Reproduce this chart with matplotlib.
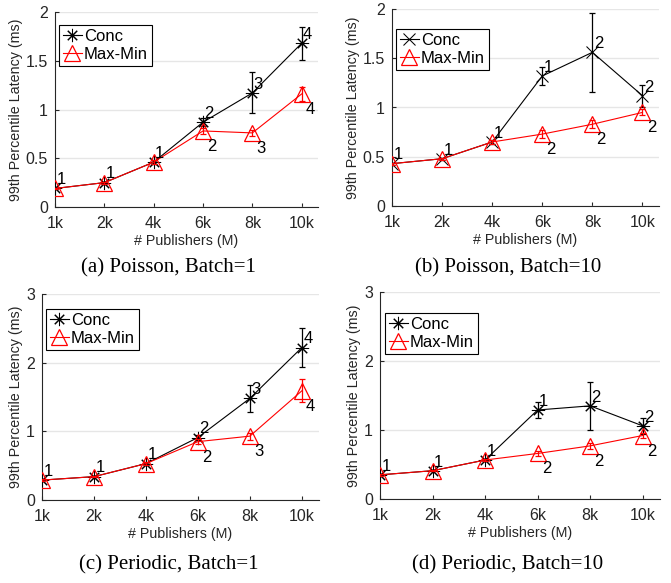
import matplotlib
matplotlib.use("Agg")
import matplotlib.pyplot as plt
import numpy as np

# ---------------- data ----------------
publishers = ["1k", "2k", "4k", "6k", "8k", "10k"]

conc_a = [0.19, 0.25, 0.46, 0.87, 1.17, 1.68]
conc_a_err = [0.01, 0.01, 0.02, 0.04, 0.21, 0.17]
mm_a = [0.19, 0.25, 0.46, 0.78, 0.76, 1.16]
mm_a_err = [0.01, 0.01, 0.02, 0.03, 0.03, 0.07]
conc_a_lab = ["1", "1", "1", "2", "3", "4"]
mm_a_lab = ["", "", "", "2", "3", "4"]

conc_b = [0.43, 0.48, 0.65, 1.32, 1.56, 1.12]
conc_b_err = [0.01, 0.01, 0.02, 0.09, 0.40, 0.11]
mm_b = [0.43, 0.48, 0.65, 0.73, 0.83, 0.95]
mm_b_err = [0.01, 0.01, 0.02, 0.04, 0.04, 0.03]
conc_b_lab = ["1", "1", "1", "1", "2", "2"]
mm_b_lab = ["", "", "", "2", "2", "2"]

conc_c = [0.29, 0.34, 0.53, 0.91, 1.48, 2.22]
conc_c_err = [0.01, 0.01, 0.02, 0.04, 0.20, 0.28]
mm_c = [0.29, 0.34, 0.53, 0.85, 0.93, 1.59]
mm_c_err = [0.01, 0.01, 0.02, 0.04, 0.05, 0.17]
conc_c_lab = ["1", "1", "1", "2", "3", "4"]
mm_c_lab = ["", "", "", "2", "3", "4"]

conc_d = [0.35, 0.41, 0.565, 1.29, 1.35, 1.06]
conc_d_err = [0.01, 0.01, 0.02, 0.115, 0.345, 0.12]
mm_d = [0.35, 0.41, 0.565, 0.66, 0.77, 0.92]
mm_d_err = [0.01, 0.01, 0.02, 0.04, 0.04, 0.03]
conc_d_lab = ["1", "1", "1", "1", "2", "2"]
mm_d_lab = ["", "", "", "2", "2", "2"]

captions = ["(a) Poisson, Batch=1", "(b) Poisson, Batch=10",
            "(c) Periodic, Batch=1", "(d) Periodic, Batch=10"]

# ---------------- style ----------------
W, H = 671, 583
plt.rcParams['font.family'] = ['Liberation Sans', 'DejaVu Sans']
fig = plt.figure(figsize=(W / 100, H / 100), dpi=100)

AX_COLOR = "#262626"
GRID = "#e6e6e6"
ASTER = (8, 2, 0)

panels = [
    dict(rect=(55, 12, 318, 207), conc=conc_a, ce=conc_a_err, mm=mm_a, me=mm_a_err,
         cl=conc_a_lab, ml=mm_a_lab, ymax=2, yticks=[0, 0.5, 1, 1.5, 2],
         yticklabels=["0", "0.5", "1", "1.5", "2"], marker=ASTER, msize=9.5, leg=(59, 25),
         cap=(168, 268)),
    dict(rect=(392, 9, 659, 206), conc=conc_b, ce=conc_b_err, mm=mm_b, me=mm_b_err,
         cl=conc_b_lab, ml=mm_b_lab, ymax=2, yticks=[0, 0.5, 1, 1.5, 2],
         yticklabels=["0", "0.5", "1", "1.5", "2"], marker="x", msize=8, leg=(396, 29),
         cap=(508, 268)),
    dict(rect=(42, 294, 319, 500), conc=conc_c, ce=conc_c_err, mm=mm_c, me=mm_c_err,
         cl=conc_c_lab, ml=mm_c_lab, ymax=3, yticks=[0, 1, 2, 3],
         yticklabels=["0", "1", "2", "3"], marker=ASTER, msize=9.5, leg=(46, 309),
         cap=(169, 565)),
    dict(rect=(380, 292, 660, 499), conc=conc_d, ce=conc_d_err, mm=mm_d, me=mm_d_err,
         cl=conc_d_lab, ml=mm_d_lab, ymax=3, yticks=[0, 1, 2, 3],
         yticklabels=["0", "1", "2", "3"], marker=ASTER, msize=9.5, leg=(385, 313),
         cap=(508, 565)),
]

x = np.arange(1, len(publishers) + 1)

for i, p in enumerate(panels):
    x0, y0, x1, y1 = p["rect"]
    ax = fig.add_axes([x0 / W, 1 - y1 / H, (x1 - x0) / W, (y1 - y0) / H])
    ax.set_xlim(1, 6.33)
    ax.set_ylim(0, p["ymax"])
    ax.set_yticks(p["yticks"])
    ax.set_yticklabels(p["yticklabels"])
    ax.set_xticks(x)
    ax.set_xticklabels(publishers)
    ax.yaxis.grid(True, color=GRID, linewidth=1.0)
    ax.set_axisbelow(True)
    for s in ["top", "right"]:
        ax.spines[s].set_visible(False)
    for s in ["left", "bottom"]:
        ax.spines[s].set_color(AX_COLOR)
        ax.spines[s].set_linewidth(0.8)
    ax.tick_params(direction="in", length=3, width=0.8, color=AX_COLOR,
                   labelcolor=AX_COLOR, labelsize=11.5)
    ax.tick_params(axis="x", pad=6.5)
    ax.tick_params(axis="y", pad=5)
    ax.set_xlabel("# Publishers (M)", fontsize=10.3, color=AX_COLOR, labelpad=2)
    ax.set_ylabel("99th Percentile Latency (ms)", fontsize=10.3, color=AX_COLOR, labelpad=2)

    # error bars
    ax.errorbar(x, p["conc"], yerr=p["ce"], fmt="none", ecolor="black",
                elinewidth=0.9, capsize=2.5, capthick=0.9, zorder=3)
    ax.errorbar(x, p["mm"], yerr=p["me"], fmt="none", ecolor="red",
                elinewidth=0.9, capsize=2.5, capthick=0.9, zorder=4)
    # lines with markers
    ax.plot(x, p["conc"], color="black", linewidth=0.8,
            marker=p["marker"], markersize=p["msize"], markeredgewidth=0.75,
            markeredgecolor="black", markerfacecolor="none",
            label="Conc", zorder=3)
    ax.plot(x, p["mm"], color="red", linewidth=0.8,
            marker="^", markersize=11, markeredgewidth=0.9,
            markeredgecolor="red", markerfacecolor="none",
            label="Max-Min", zorder=4)

    for xi, yi, lab in zip(x, p["conc"], p["cl"]):
        if lab:
            ax.annotate(lab, (xi, yi), xytext=(1.0, 3.0), textcoords="offset points",
                        ha="left", va="baseline", fontsize=12, color="black",
                        zorder=6, annotation_clip=False)
    for xi, yi, lab in zip(x, p["mm"], p["ml"]):
        if lab:
            ax.annotate(lab, (xi, yi), xytext=(3.0, -14.4), textcoords="offset points",
                        ha="left", va="baseline", fontsize=12, color="black",
                        zorder=6, annotation_clip=False)

    lx, ly = p["leg"]
    bx = (lx - x0) / (x1 - x0)
    by = 1 - (ly - y0) / (y1 - y0)
    leg = ax.legend(loc="upper left", bbox_to_anchor=(bx, by), borderaxespad=0,
                    fontsize=12, frameon=True, fancybox=False, framealpha=1,
                    edgecolor="black", handlelength=1.1, handletextpad=0.15,
                    borderpad=0.25, labelspacing=0.15)
    leg.get_frame().set_linewidth(0.8)

    cx, cy = p["cap"]
    fig.text(cx / W, 1 - cy / H, captions[i], ha="center", va="center", fontsize=15,
             family=["Liberation Serif", "DejaVu Serif"], color="black")

fig.savefig("out.png", dpi=100)
